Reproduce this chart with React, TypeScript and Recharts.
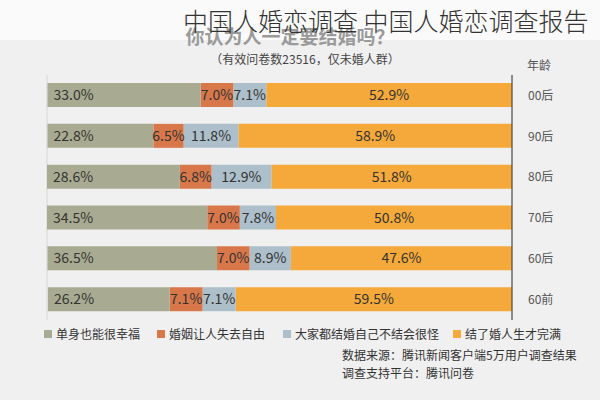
import { Bar, BarChart, CartesianGrid, LabelList, XAxis, YAxis } from 'recharts';

const AGES = ['00后', '90后', '80后', '70后', '60后', '60前'];
const MARRIED_COMPLETE = [52.9, 58.9, 51.8, 50.8, 47.6, 59.5];
const ODD_IF_NOT = [7.1, 11.8, 12.9, 7.8, 8.9, 7.1];
const LOSE_FREEDOM = [7.0, 6.5, 6.8, 7.0, 7.0, 7.1];
const SINGLE_HAPPY = [33.0, 22.8, 28.6, 34.5, 36.5, 26.2];
const PCT_TICKS = [0, 10, 20, 30, 40, 50, 60, 70, 80, 90, 100];

const SERIES = [
  { key: 'married', name: '结了婚人生才完满', color: '#f4a93a' },
  { key: 'odd', name: '大家都结婚自己不结会很怪', color: '#adbfca' },
  { key: 'freedom', name: '婚姻让人失去自由', color: '#d8784a' },
  { key: 'single', name: '单身也能很幸福', color: '#a8ab91' },
];

const data = AGES.map((age, i) => ({
  age,
  married: MARRIED_COMPLETE[i],
  odd: ODD_IF_NOT[i],
  freedom: LOSE_FREEDOM[i],
  single: SINGLE_HAPPY[i],
}));

const FONT = '"Noto Sans CJK SC", "Noto Sans", sans-serif';

function makeLabel(edge: boolean) {
  return (props: any) => {
    const { x, y, width, height, value } = props;
    const left = Math.min(x, x + width);
    const w = Math.abs(width);
    const tx = edge ? left + 6 : left + w / 2;
    return (
      <text
        x={tx}
        y={y + height / 2}
        dy="0.36em"
        textAnchor={edge ? 'start' : 'middle'}
        fontSize={14}
        fill="#333"
        fontFamily={FONT}
      >
        {value.toFixed(1)}%
      </text>
    );
  };
}

// legend item spans
const LEGEND_POS = [453, 283, 157, 44];

export default function App() {
  return (
    <div style={{ position: 'absolute', left: 0, top: 0, width: 600, height: 400, background: '#f0f0f0', fontFamily: FONT, overflow: 'hidden' }}>
      <div style={{ position: 'absolute', left: 0, top: 0, width: 600, height: 40, background: '#fafafa' }} />
      <div style={{ position: 'absolute', left: 0, top: 22, width: 580, textAlign: 'center', fontSize: 19, fontWeight: 700, color: '#9a9a9a' }}>
        你认为人一定要结婚吗？
      </div>
      <div style={{ position: 'absolute', left: 183, top: 2, fontSize: 25, fontWeight: 300, color: '#333', whiteSpace: 'nowrap' }}>
        中国人婚恋调查 中国人婚恋调查报告
      </div>
      <div style={{ position: 'absolute', left: 0, top: 50, width: 610, textAlign: 'center', fontSize: 12, color: '#444' }}>
        （有效问卷数23516，仅未婚人群）
      </div>
      <div style={{ position: 'absolute', left: 527, top: 56, fontSize: 12, color: '#555' }}>年龄</div>

      <div style={{ position: 'absolute', left: 0, top: 0 }}>
        <BarChart
          width={600}
          height={400}
          data={data}
          layout="vertical"
          barSize={24}
          margin={{ top: 75, right: 0, bottom: 80, left: 47 }}
        >
          <CartesianGrid vertical horizontal={false} stroke="#d6d6d6" />
          <XAxis
            type="number"
            domain={[0, 100]}
            ticks={PCT_TICKS}
            reversed
            tick={false}
            tickLine={false}
            axisLine={false}
            height={0}
          />
          <YAxis
            type="category"
            dataKey="age"
            orientation="right"
            width={88}
            axisLine={{ stroke: '#333' }}
            tickLine={false}
            tickMargin={10}
            tick={{ fontSize: 12, fill: '#555', fontFamily: FONT }}
          />
          {SERIES.map((s) => (
            <Bar key={s.key} dataKey={s.key} name={s.name} stackId="a" fill={s.color} isAnimationActive={false}>
              <LabelList dataKey={s.key} content={makeLabel(s.key === 'single')} />
            </Bar>
          ))}
        </BarChart>
      </div>

      {SERIES.map((s, i) => (
        <div key={s.key} style={{ position: 'absolute', left: LEGEND_POS[i], top: 325, display: 'flex', alignItems: 'center', fontSize: 12, color: '#333', whiteSpace: 'nowrap' }}>
          <span style={{ display: 'inline-block', width: 8, height: 8, background: s.color, marginRight: 4 }} />
          {s.name}
        </div>
      ))}

      <div style={{ position: 'absolute', left: 342, top: 346, fontSize: 12, color: '#333', lineHeight: '18px' }}>
        <div>数据来源：腾讯新闻客户端5万用户调查结果</div>
        <div>调查支持平台：腾讯问卷</div>
      </div>
    </div>
  );
}
